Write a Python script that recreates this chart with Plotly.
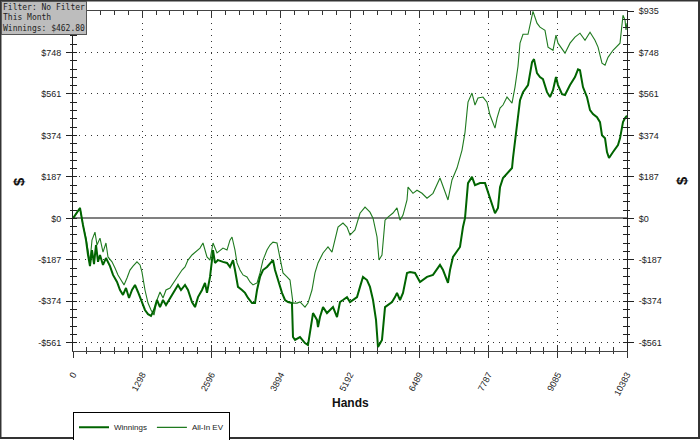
import plotly.graph_objects as go

# ---------------- data ----------------
win_hands = [
    0, 56, 131, 187, 244, 281, 318, 356, 394, 431,
    469, 506, 562, 618, 693, 750, 825, 881, 937, 993,
    1050, 1106, 1162, 1218, 1274, 1349, 1406, 1462, 1518, 1574,
    1631, 1687, 1743, 1818, 1893, 1968, 2024, 2099, 2155, 2230,
    2287, 2343, 2418, 2474, 2511, 2568, 2605, 2624, 2661, 2718,
    2811, 2886, 2942, 2999, 3036, 3092, 3167, 3224, 3280, 3355,
    3411, 3449, 3505, 3561, 3636, 3692, 3748, 3786, 3842, 3917,
    3973, 4030, 4104, 4123, 4161, 4254, 4348, 4404, 4479, 4498,
    4573, 4592, 4629, 4686, 4760, 4817, 4873, 4948, 5004, 5060,
    5135, 5192, 5248, 5323, 5379, 5435, 5510, 5566, 5623, 5679,
    5716, 5791, 5848, 5904, 5979, 6035, 6072, 6129, 6185, 6260,
    6316, 6410, 6503, 6635, 6747, 6878, 6935, 7028, 7066, 7122,
    7253, 7309, 7347, 7403, 7478, 7534, 7628, 7722, 7778, 7853,
    7909, 7965, 8003, 8059, 8153, 8228, 8246, 8321, 8378, 8434,
    8528, 8603, 8640, 8696, 8752, 8808, 8884, 8940, 8996, 9052,
    9090, 9165, 9221, 9315, 9408, 9465, 9502, 9558, 9633, 9690,
    9746, 9821, 9877, 9914, 9971, 10008, 10046, 10121, 10214, 10252,
    10308, 10346, 10383,
]
winnings = [
    0, 19, 47, -30, -98, -165, -215, -143, -206, -120,
    -196, -165, -210, -179, -215, -255, -287, -323, -345, -314,
    -359, -323, -300, -332, -368, -413, -432, -440, -413, -368,
    -400, -368, -391, -359, -332, -300, -323, -300, -323, -377,
    -400, -355, -323, -291, -336, -264, -188, -143, -201, -188,
    -196, -201, -219, -188, -233, -309, -323, -336, -359, -382,
    -382, -323, -264, -233, -219, -201, -188, -233, -278, -336,
    -368, -377, -382, -535, -548, -535, -562, -571, -458, -427,
    -458, -490, -445, -400, -427, -413, -400, -445, -377, -368,
    -355, -377, -368, -355, -309, -264, -278, -309, -368, -458,
    -580, -548, -400, -391, -377, -355, -336, -368, -336, -246,
    -242, -246, -287, -264, -255, -210, -233, -291, -233, -174,
    -129, -39, 1, 159, 187, 150, 159, 159, 118, 73,
    23, 47, 141, 182, 209, 227, 272, 407, 533, 569,
    601, 704, 718, 655, 637, 628, 569, 547, 578, 637,
    601, 560, 556, 601, 637, 672, 668, 592, 547, 488,
    470, 456, 434, 375, 361, 299, 272, 299, 331, 361,
    434, 452, 462.8,
]

ev_hands = [
    0, 56, 131, 187, 244, 281, 318, 356, 412, 450,
    506, 562, 618, 656, 731, 787, 843, 900, 956, 1012,
    1068, 1125, 1199, 1256, 1293, 1349, 1406, 1462, 1518, 1574,
    1631, 1687, 1743, 1818, 1893, 1968, 2043, 2099, 2155, 2230,
    2324, 2380, 2436, 2474, 2511, 2568, 2605, 2624, 2699, 2755,
    2811, 2886, 2942, 2980, 3036, 3074, 3130, 3186, 3261, 3317,
    3374, 3449, 3505, 3561, 3636, 3692, 3748, 3823, 3880, 3936,
    4011, 4067, 4123, 4198, 4254, 4348, 4404, 4479, 4535, 4592,
    4686, 4779, 4854, 4910, 4967, 5060, 5135, 5192, 5285, 5379,
    5473, 5566, 5623, 5698, 5735, 5791, 5848, 5904, 5997, 6072,
    6129, 6185, 6260, 6279, 6372, 6447, 6541, 6635, 6747, 6878,
    6935, 7028, 7103, 7197, 7291, 7347, 7384, 7403, 7478, 7534,
    7590, 7684, 7759, 7815, 7909, 7947, 8003, 8059, 8134, 8228,
    8284, 8340, 8378, 8434, 8528, 8621, 8696, 8752, 8846, 8903,
    8996, 9052, 9090, 9221, 9315, 9408, 9502, 9596, 9690, 9783,
    9840, 9914, 9971, 10027, 10121, 10252, 10308, 10346, 10364, 10383,
]
allin_ev = [
    0, 19, 47, -30, -89, -143, -196, -98, -62, -120,
    -89, -152, -111, -174, -196, -224, -255, -278, -300, -269,
    -233, -215, -196, -210, -242, -323, -382, -413, -436, -368,
    -332, -359, -323, -314, -287, -255, -233, -219, -188, -165,
    -143, -134, -111, -143, -174, -188, -143, -111, -156, -143,
    -134, -143, -98, -84, -143, -201, -233, -255, -264, -287,
    -300, -291, -246, -188, -143, -120, -107, -111, -174, -246,
    -264, -278, -382, -382, -377, -400, -382, -323, -246, -201,
    -156, -129, -152, -98, -39, -21, -39, -75, -52, 23,
    51, 28, 1, -84, -188, -165, -8, 6, 24, 47,
    -8, 15, 83, 141, 113, 127, 113, 91, 113, 182,
    141, 83, 173, 227, 308, 388, 479, 524, 565, 511,
    543, 547, 524, 466, 407, 452, 497, 511, 547, 520,
    592, 686, 790, 830, 830, 933, 880, 862, 848, 772,
    758, 826, 790, 745, 790, 817, 835, 803, 839, 803,
    772, 700, 691, 726, 758, 790, 916, 894, 850, 880,
]

x_max = 10383
x_ticktext = ["0", "1298", "2596", "3894", "5192", "6489", "7787", "9085", "10383"]
y_tickvals = [-561, -374, -187, 0, 187, 374, 561, 748, 935]
y_ticktext_right = ["-$561", "-$374", "-$187", "$0", "$187", "$374", "$561", "$748", "$935"]
# the top-left label is hidden behind the info box in the reference
y_ticktext_left = ["-$561", "-$374", "-$187", "$0", "$187", "$374", "$561", "$748", ""]
y_range = [-598, 935]

assert len(win_hands) == len(winnings)
assert len(ev_hands) == len(allin_ev)

x_tickvals = [i * x_max / 8 for i in range(9)]

# ---------------- figure ----------------
fig = go.Figure()
fig.add_trace(go.Scatter(x=ev_hands, y=allin_ev, mode="lines", name="All-In EV",
                         line=dict(color="#1f7a1f", width=1.1), legendrank=2))
fig.add_trace(go.Scatter(x=win_hands, y=winnings, mode="lines", name="Winnings",
                         line=dict(color="#006400", width=2), legendrank=1))
# helper traces so the overlay axes (right labels, inside ticks) are drawn
fig.add_trace(go.Scatter(x=[None], y=[None], xaxis="x", yaxis="y2",
                         showlegend=False, hoverinfo="skip"))
fig.add_trace(go.Scatter(x=[None], y=[None], xaxis="x2", yaxis="y3",
                         showlegend=False, hoverinfo="skip"))

tick_font = dict(family="Liberation Sans, Arial, sans-serif", size=9, color="#222")
grid_kw = dict(showgrid=True, gridcolor="#333", griddash="1px,5px", gridwidth=1)

fig.update_layout(
    width=700, height=440,
    margin=dict(l=73, r=73, t=11, b=89, autoexpand=False),
    paper_bgcolor="white", plot_bgcolor="white",
    font=tick_font,
    xaxis=dict(range=[0, x_max], tickmode="array", tickvals=x_tickvals, ticktext=x_ticktext,
               ticks="outside", ticklen=6, tickcolor="#333", tickwidth=1,
               showline=True, linecolor="#444", linewidth=1, zeroline=False,
               tickangle=-62, ticklabelstandoff=8, tickfont=tick_font, automargin=False,
               minor=dict(ticks="outside", ticklen=2, tickmode="linear", tick0=0,
                          dtick=x_max / 40, tickcolor="#333", showgrid=False),
               **grid_kw),
    xaxis2=dict(range=[0, x_max], overlaying="x", side="bottom", anchor="y3",
                tickmode="array", tickvals=x_tickvals, ticks="inside", ticklen=6,
                tickcolor="#333", showticklabels=False, showline=True, linecolor="#444",
                mirror="ticks", showgrid=False, zeroline=False, automargin=False,
                minor=dict(ticks="inside", ticklen=4, tickmode="linear", tick0=0,
                           dtick=x_max / 40, tickcolor="#333", showgrid=False)),
    yaxis=dict(range=y_range, tickmode="array", tickvals=y_tickvals, ticktext=y_ticktext_left,
               ticks="outside", ticklen=6, tickcolor="#222", showline=True,
               linecolor="#222", linewidth=1, ticklabelstandoff=3, tickfont=tick_font,
               zeroline=True, zerolinecolor="#808080", zerolinewidth=2, automargin=False,
               minor=dict(ticks="outside", ticklen=2, tickmode="linear", tick0=0,
                          dtick=37.4, tickcolor="#222", showgrid=False),
               **grid_kw),
    yaxis2=dict(range=y_range, overlaying="y", side="right", anchor="x",
                tickmode="array", tickvals=y_tickvals, ticktext=y_ticktext_right,
                ticks="outside", ticklen=6, tickcolor="#222", showline=True,
                linecolor="#222", ticklabelstandoff=3, tickfont=tick_font,
                showgrid=False, zeroline=False, automargin=False,
                minor=dict(ticks="outside", ticklen=2, tickmode="linear", tick0=0,
                           dtick=37.4, tickcolor="#222", showgrid=False)),
    yaxis3=dict(range=y_range, overlaying="y", side="left", anchor="x2",
                tickmode="array", tickvals=y_tickvals, ticks="inside", ticklen=4,
                tickcolor="#222", showticklabels=False, showline=True, linecolor="#222",
                mirror="ticks", showgrid=False, zeroline=False, automargin=False,
                minor=dict(ticks="inside", ticklen=4, tickmode="linear", tick0=0,
                           dtick=37.4, tickcolor="#222", showgrid=False)),
    legend=dict(orientation="h", x=0, y=-0.179, xanchor="left", yanchor="top",
                bgcolor="white", bordercolor="#000", borderwidth=1,
                font=dict(family="Liberation Sans, Arial, sans-serif", size=8, color="#222"),
                itemwidth=30, traceorder="normal", tracegroupgap=0),
    showlegend=True,
    shapes=[
        dict(type="rect", xref="paper", yref="paper", x0=-0.1309, x1=1.1300,
             y0=-0.2559, y1=1.0309, line=dict(color="#333", width=2), layer="below"),
    ],
    annotations=[
        dict(text="Filter: No Filter<br>This Month<br>Winnings: $462.80",
             xref="paper", yref="paper", x=-0.130, y=1.0294, xanchor="left", yanchor="top",
             align="left", showarrow=False,
             font=dict(family="DejaVu Sans Mono, Liberation Mono, monospace", size=8, color="#222"),
             bgcolor="#bdbdbd", bordercolor="#555", borderwidth=1, borderpad=1),
        dict(text="<b>$</b>", xref="paper", yref="paper", x=-0.0993, y=0.5,
             xanchor="center", yanchor="middle", textangle=-90, showarrow=False,
             font=dict(family="Liberation Sans, Arial, sans-serif", size=15, color="#111")),
        dict(text="<b>$</b>", xref="paper", yref="paper", x=1.0975, y=0.5,
             xanchor="center", yanchor="middle", textangle=-90, showarrow=False,
             font=dict(family="Liberation Sans, Arial, sans-serif", size=15, color="#111")),
        dict(text="<b>Hands</b>", xref="paper", yref="paper", x=0.5, y=-0.153,
             xanchor="center", yanchor="middle", showarrow=False,
             font=dict(family="Liberation Sans, Arial, sans-serif", size=12, color="#111")),
    ],
)

fig.write_html("out.html", config={"displayModeBar": False},
               post_script="document.body.style.margin='0';document.body.style.overflow='hidden';")
